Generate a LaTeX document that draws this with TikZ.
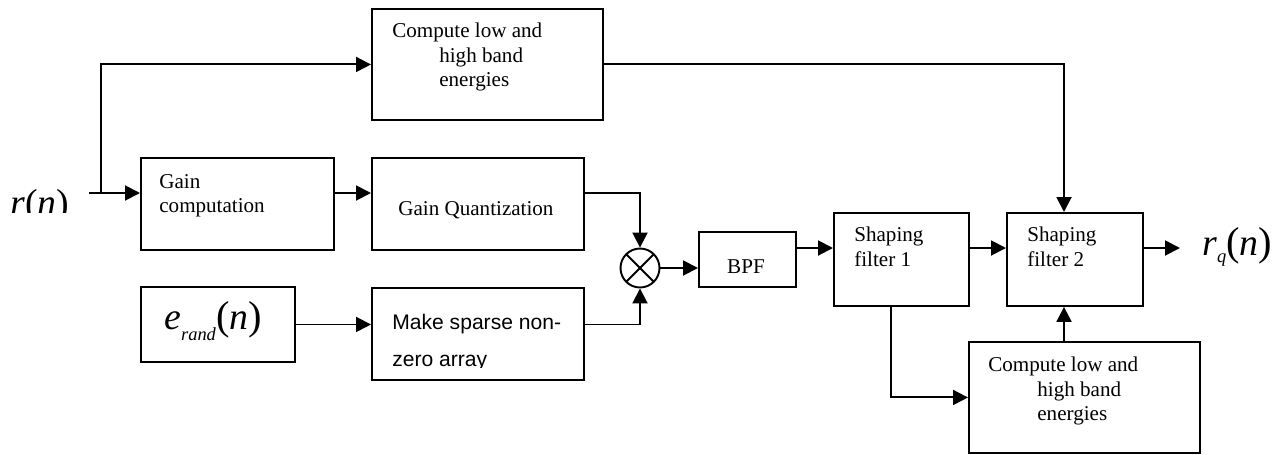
\documentclass[tikz,border=0pt]{standalone}
\usepackage{fontspec}
\setmainfont{Liberation Serif}
\newfontfamily\sansfont{Liberation Sans}
\usetikzlibrary{arrows.meta, positioning, calc}

\begin{document}
\begin{tikzpicture}[x=0.02cm, y=-0.02cm]
	% Define style
	\tikzset{
		block/.style={rectangle, draw=black, line width=1.1pt, anchor=north west, inner sep=0pt},
		txt/.style={anchor=north west, inner sep=0pt, align=left, font=\fontsize{12}{13.7}\selectfont},
		sig/.style={inner sep=0pt, anchor=base west, font=\fontsize{21.5}{21.5}\selectfont},
		mixer/.style={circle, draw=black, line width=1.1pt, minimum size=0.78cm, inner sep=0pt,
			path picture={\draw[line width=1.1pt] (path picture bounding box.north west) -- (path picture bounding box.south east)
				(path picture bounding box.north east) -- (path picture bounding box.south west);}},
		arrow/.style={line width=1.1pt, -{Triangle[length=0.3cm, width=0.3cm]}},
		wire/.style={line width=1.1pt}
	}
	\newcommand{\sub}[2]{\raisebox{-#1}{\fontsize{10.5}{10.5}\selectfont\textit{#2}}}
	\newcommand{\bigpar}[1]{{\fontsize{23}{23}\selectfont#1}}
	\useasboundingbox (0,0) rectangle (1282,454);
	
	% Define blocks
	\node (eTop) [block, minimum width=4.62cm, minimum height=2.22cm] at (371,8) {};
	\node (gainComp) [block, minimum width=3.86cm, minimum height=1.84cm] at (140,157) {};
	\node (gainQuant) [block, minimum width=4.24cm, minimum height=1.84cm] at (371,157) {};
	\node (eRand) [block, minimum width=3.08cm, minimum height=1.50cm] at (140,286) {};
	\node (sparse) [block, minimum width=4.24cm, minimum height=1.84cm] at (371,287) {};
	\node (mult) [mixer] at (640,268) {};
	\node (bpf) [block, minimum width=1.94cm, minimum height=1.10cm] at (698,231) {};
	\node (shape1) [block, minimum width=2.70cm, minimum height=1.86cm] at (833,212) {};
	\node (shape2) [block, minimum width=2.72cm, minimum height=1.86cm] at (1006,212) {};
	\node (eBot) [block, minimum width=4.62cm, minimum height=2.22cm] at (968,341) {};
	
	% Define texts
	\node (eTopTxt) [txt] at (392,23) {Compute low and\\\hspace*{0.94cm}high band\\\hspace*{0.94cm}energies};
	\node (gainCompTxt) [txt] at (159,174) {Gain\\computation};
	\node (gainQuantTxt) [txt] at (398,201) {Gain Quantization};
	\begin{scope}
		\clip (371,287) rectangle (583,367);
		\node (sparseTxt) [txt, font=\sansfont\fontsize{12}{21}\selectfont] at (392,314) {Make sparse non-\\zero array};
	\end{scope}
	\node (bpfTxt) [txt, anchor=center] at (746,267) {BPF};
	\node (shape1Txt) [txt] at (854,227) {Shaping\\filter 1};
	\node (shape2Txt) [txt] at (1027,227) {Shaping\\filter 2};
	\node (eBotTxt) [txt] at (988,357) {Compute low and\\\hspace*{0.98cm}high band\\\hspace*{0.98cm}energies};
	\begin{scope}
		\clip (0,180) rectangle (85,212);
		\node (rin) [sig] at (10,215) {\textit{r}(\textit{n})};
	\end{scope}
	\node (eRandTxt) [sig] at (164,329) {\textit{e}\sub{6.8pt}{rand}\bigpar{(}\textit{n}\bigpar{)}};
	\node (rq) [sig] at (1202,255) {\textit{r}\sub{4.5pt}{q}\bigpar{(}\textit{n}\bigpar{)}};
	
	\coordinate (inStart) at (89,193);
	\coordinate (branch) at (101,193);
	\coordinate (outEnd) at (1180,248);
	\coordinate (rowB) at (0,248);
	\coordinate (colE) at (1064,0);
	\coordinate (colF) at (891,0);
	
	% Define arrows
	\draw [arrow] (inStart) -- (inStart -| gainComp.west);
	\draw [arrow] (branch) |- (eTop.west);
	\draw [arrow] (inStart -| gainComp.east) -- (inStart -| gainQuant.west);
	\draw [arrow] (inStart -| gainQuant.east) -| (mult.north);
	\draw [arrow] (eRand.east) -- (eRand.east -| sparse.west);
	\draw [arrow] (eRand.east -| sparse.east) -| (mult.south);
	\draw [arrow] (mult.east) -- (mult.east -| bpf.west);
	\draw [arrow] (rowB -| bpf.east) -- (rowB -| shape1.west);
	\draw [arrow] (rowB -| shape1.east) -- (rowB -| shape2.west);
	\draw [arrow] (rowB -| shape2.east) -- (outEnd);
	\draw [arrow] (eTop.east) -| (colE |- shape2.north);
	\draw [arrow] (colE |- eBot.north) -- (colE |- shape2.south);
	\draw [arrow] (colF |- shape1.south) |- (eBot.west);
\end{tikzpicture}
\end{document}
